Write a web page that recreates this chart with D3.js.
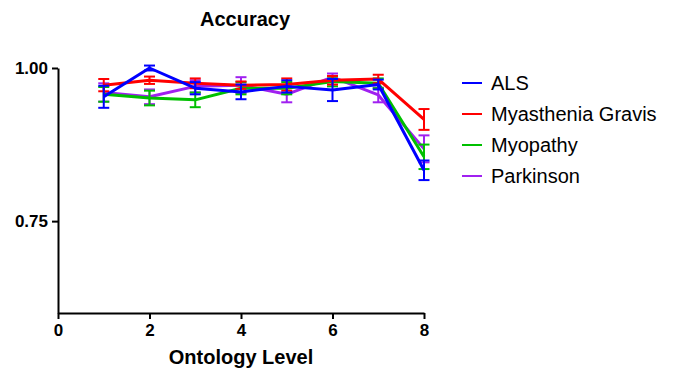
<!DOCTYPE html>
<html>
<head>
<meta charset="utf-8">
<script src="https://cdn.jsdelivr.net/npm/d3@7"></script>
<style>
  body { margin: 0; background: #fff; }
  text { font-family: "Liberation Sans", Arial, sans-serif; }
</style>
</head>
<body>
<script>
// ontology levels on the x axis
var levels = [1, 2, 3, 4, 5, 6, 7, 8]

// series names + colours (legend order)
var series_names = ["ALS", "Myasthenia Gravis", "Myopathy", "Parkinson"]
var series_colors = ["#0000ff", "#ff0000", "#00c000", "#a020f0"]

// mean accuracy per level
var als = [0.953, 1.000, 0.967, 0.961, 0.970, 0.964, 0.973, 0.833]
var myasthenia = [0.972, 0.980, 0.975, 0.972, 0.973, 0.980, 0.982, 0.916]
var myopathy = [0.957, 0.951, 0.948, 0.967, 0.967, 0.978, 0.975, 0.855]
var parkinson = [0.960, 0.953, 0.970, 0.972, 0.957, 0.985, 0.956, 0.868]

// error bar half lengths
var als_err = [0.018, 0.004, 0.010, 0.012, 0.010, 0.018, 0.008, 0.016]
var myasthenia_err = [0.010, 0.006, 0.008, 0.006, 0.010, 0.007, 0.007, 0.017]
var myopathy_err = [0.012, 0.012, 0.012, 0.010, 0.010, 0.008, 0.008, 0.020]
var parkinson_err = [0.015, 0.012, 0.010, 0.013, 0.013, 0.006, 0.012, 0.022]

// tick values
var x_ticks = [0, 2, 4, 6, 8]
var y_ticks = [0.75, 1.00]

var all_means = [als, myasthenia, myopathy, parkinson]
var all_errs = [als_err, myasthenia_err, myopathy_err, parkinson_err]

var w = 673
var h = 375

var svg = d3.select("body")
  .append("svg")
  .attr("width", w)
  .attr("height", h)

var xScale = d3.scaleLinear()
  .domain([0, 8])
  .range([58, 424])

var yScale = d3.scaleLinear()
  .domain([0.6, 1.0])
  .range([313, 68])

// title
svg.append("text")
  .attr("x", 245)
  .attr("y", 26)
  .attr("text-anchor", "middle")
  .style("font-size", "20px")
  .style("font-weight", "bold")
  .text("Accuracy")

// x-axis
var xAxis = svg.append("g")
  .attr("transform", "translate(0,313)")
  .call(d3.axisBottom(xScale).tickValues(x_ticks).tickSize(6).tickSizeOuter(0).tickPadding(5))
xAxis.select(".domain").attr("stroke-width", 2)
xAxis.selectAll(".tick line").attr("stroke-width", 2)
xAxis.selectAll("text")
  .style("font-size", "17px")
  .style("font-weight", "bold")
  .attr("fill", "#000")

// y-axis
var yAxis = svg.append("g")
  .attr("transform", "translate(58,0)")
  .call(d3.axisLeft(yScale).tickValues(y_ticks).tickFormat(d3.format(".2f")).tickSize(6).tickSizeOuter(0).tickPadding(4))
yAxis.select(".domain").attr("stroke-width", 2)
yAxis.selectAll(".tick line").attr("stroke-width", 2)
yAxis.selectAll("text")
  .style("font-size", "17px")
  .style("font-weight", "bold")
  .attr("fill", "#000")

// x-axis label
svg.append("text")
  .attr("x", 241)
  .attr("y", 364)
  .attr("text-anchor", "middle")
  .style("font-size", "20px")
  .style("font-weight", "bold")
  .text("Ontology Level")

var line = d3.line()
  .x(function(d, i) { return xScale(levels[i]) })
  .y(function(d) { return yScale(d) })

// draw series back to front so ALS ends on top
for (var s = series_names.length - 1; s >= 0; s--) {
  var means = all_means[s]
  var errs = all_errs[s]
  var color = series_colors[s]
  var g = svg.append("g")

  var bars = levels.map(function(lv, i) {
    return { x: lv, lo: means[i] - errs[i], hi: means[i] + errs[i] }
  })

  // vertical error bars
  g.selectAll(".eb")
    .data(bars)
    .enter().append("line")
    .attr("x1", function(d) { return xScale(d.x) })
    .attr("x2", function(d) { return xScale(d.x) })
    .attr("y1", function(d) { return yScale(d.lo) })
    .attr("y2", function(d) { return yScale(d.hi) })
    .attr("stroke", color)
    .attr("stroke-width", 2)

  // caps
  ;["lo", "hi"].forEach(function(k) {
    g.selectAll(".cap-" + k)
      .data(bars)
      .enter().append("line")
      .attr("x1", function(d) { return xScale(d.x) - 5.5 })
      .attr("x2", function(d) { return xScale(d.x) + 5.5 })
      .attr("y1", function(d) { return yScale(d[k]) })
      .attr("y2", function(d) { return yScale(d[k]) })
      .attr("stroke", color)
      .attr("stroke-width", 2)
  })

  g.append("path")
    .datum(means)
    .attr("d", line)
    .attr("fill", "none")
    .attr("stroke", color)
    .attr("stroke-width", 3)
    .attr("stroke-linejoin", "round")
}

// legend
var legend = svg.selectAll(".legend")
  .data(series_names)
  .enter().append("g")
  .attr("transform", function(d, i) { return "translate(462," + (83 + i * 31) + ")" })

legend.append("line")
  .attr("x1", 0)
  .attr("x2", 20)
  .attr("stroke", function(d, i) { return series_colors[i] })
  .attr("stroke-width", 2)

legend.append("text")
  .attr("x", 29)
  .attr("y", 7)
  .style("font-size", "20px")
  .text(function(d) { return d })
</script>
</body>
</html>
